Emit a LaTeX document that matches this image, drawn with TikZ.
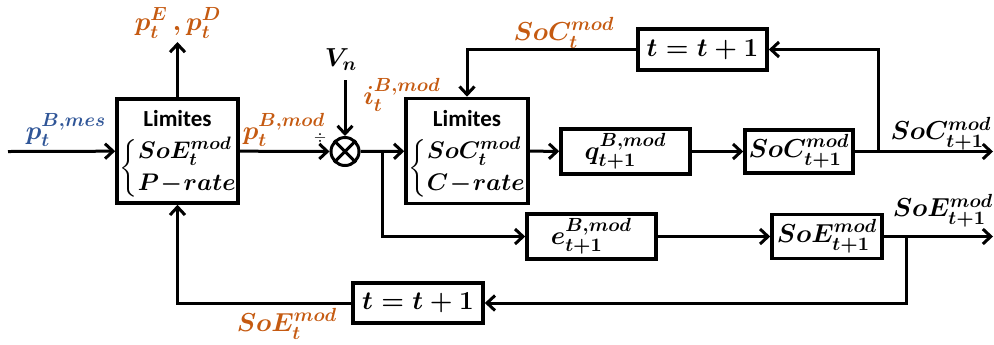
\RequirePackage{fix-cm}
\documentclass[tikz,border=0pt]{standalone}
\usepackage{amsmath}
\usepackage{fontspec}
\setsansfont{Carlito}
\DeclareMathSizes{13}{13}{9.5}{7}
\DeclareMathSizes{12}{12}{9}{6.5}
\usetikzlibrary{arrows.meta}
\definecolor{orng}{RGB}{197,90,17}
\definecolor{blu}{RGB}{47,85,151}
\begin{document}
\begin{tikzpicture}[x=0.5pt,y=-0.5pt,line width=1.5pt,
  >={Straight Barb[length=4pt,width=7.5pt,line width=1.5pt]},
  blk/.style={draw,line width=1.8pt,rectangle,inner sep=0pt,align=center,
    font=\fontsize{13}{15}\selectfont\boldmath},
  lbl/.style={inner sep=0pt,font=\fontsize{13}{15}\selectfont\boldmath},
  brc/.style={inner sep=0pt,font=\fontsize{12}{14}\selectfont\boldmath},
  olbl/.style={lbl,text=orng},
  ttl/.style={inner sep=0pt,font=\fontsize{11.5}{13}\sffamily\bfseries}]
\useasboundingbox (0,0) rectangle (994,344);
% blocks
\node[blk,minimum width=60.5pt,minimum height=52pt] (L1) at (177.5,151) {};
\node[ttl] (L1t) at (177.5,119) {Limites};
\node[brc] (L1c) at (179,168) {$\left\{\begin{array}{@{}l@{}}SoE_t^{mod}\\[2pt] P\!-\!rate\end{array}\right.$};
\node[blk,minimum width=61pt,minimum height=52.5pt] (L2) at (467,151) {};
\node[ttl] (L2t) at (467,119) {Limites};
\node[brc] (L2c) at (468,168) {$\left\{\begin{array}{@{}l@{}}SoC_t^{mod}\\[2pt] C\!-\!rate\end{array}\right.$};
\node[blk,minimum width=64.5pt,minimum height=22.5pt] (q) at (625.5,151.5) {$q_{t+1}^{B,mod}$};
\node[blk,minimum width=54pt,minimum height=21.5pt] (soc) at (799,151.5) {$SoC_{t+1}^{mod}$};
\node[blk,minimum width=64.5pt,minimum height=22.5pt] (e) at (591.5,236.5) {$e_{t+1}^{B,mod}$};
\node[blk,minimum width=55pt,minimum height=22pt] (soe) at (827,236.5) {$SoE_{t+1}^{mod}$};
\node[blk,minimum width=64.5pt,minimum height=20.5pt] (t1) at (702.5,49.5) {$t=t+1$};
\node[blk,minimum width=65pt,minimum height=20pt] (t2) at (418,303) {$t=t+1$};
\node[draw,circle,minimum size=14pt,inner sep=0pt,line width=1.5pt] (m) at (345,151.5) {};
\draw (m.45) -- (m.225) (m.135) -- (m.315);
% coordinates
\coordinate (in) at (8,151.5);
\coordinate (pE) at (177.5,42);
\coordinate (vn) at (345,80);
\coordinate (b1) at (382,151.5);
\coordinate (b2) at (878,151.5);
\coordinate (b3) at (906,236.5);
\coordinate (out1) at (993,151.5);
\coordinate (out2) at (993,236.5);
% connectors
\draw[->] (in) -- (L1);
\draw[->] (L1) -- (pE);
\draw[->] (L1) -- (m);
\draw[->] (vn) -- (m);
\draw[->] (m) -- (L2);
\draw[->] (b1) |- (e);
\draw[->] (L2) -- (q);
\draw[->] (q) -- (soc);
\draw[->] (soc) -- (out1);
\draw[->] (b2) |- (t1);
\draw[->] (t1) -| (L2);
\draw[->] (e) -- (soe);
\draw[->] (soe) -- (out2);
\draw[->] (b3) |- (t2);
\draw[->] (t2) -| (L1);
% labels
\node[lbl,text=blu] (lpmes) at (66,130) {$p_t^{B,mes}$};
\node[olbl] (lpED) at (178,23) {$p_t^{E}\,,p_t^{D}$};
\node[olbl] (lpmod) at (284,130) {$p_t^{B,mod}$};
\node[inner sep=0pt,font=\fontsize{7}{8}\selectfont] (ldiv) at (320,138) {$\div$};
\node[lbl] (lvn) at (341,60) {$V_n$};
\node[olbl] (limod) at (402,95) {$i_t^{B,mod}$};
\node[olbl] (lsoct) at (564,33) {$SoC_t^{mod}$};
\node[lbl] (lsoc1) at (941,134) {$SoC_{t+1}^{mod}$};
\node[lbl] (lsoe1) at (943,211) {$SoE_{t+1}^{mod}$};
\node[olbl] (lsoet) at (287,324) {$SoE_t^{mod}$};
\end{tikzpicture}
\end{document}
